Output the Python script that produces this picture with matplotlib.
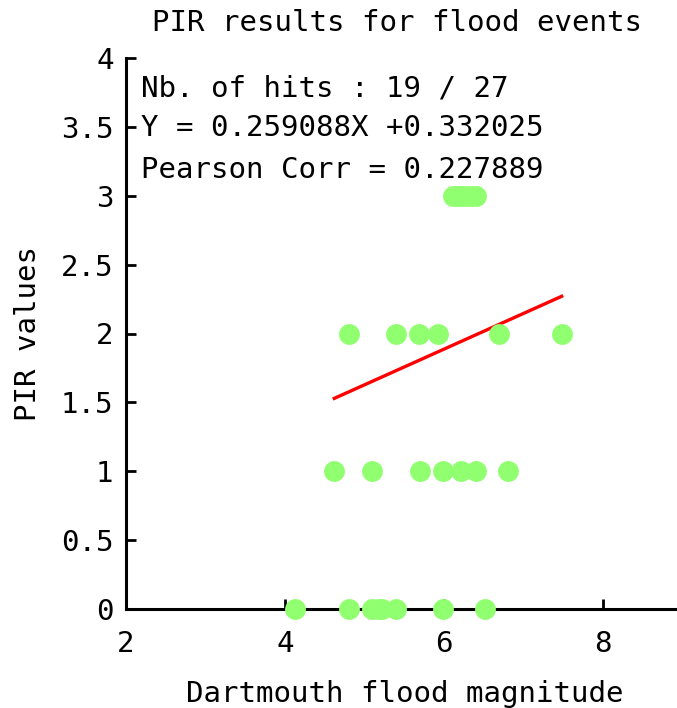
import matplotlib
matplotlib.use("Agg")
import matplotlib.pyplot as plt
import numpy as np

# --- data ---
x_pir0 = [4.13, 4.80, 5.10, 5.18, 5.22, 5.40, 5.99, 6.52]
x_pir1 = [4.62, 5.10, 5.70, 5.99, 6.22, 6.40, 6.81]
x_pir2 = [4.80, 5.40, 5.69, 5.92, 6.69, 7.48]
x_pir3 = [6.11, 6.16, 6.22, 6.28, 6.34, 6.40]
pir_levels = [0, 1, 2, 3]
slope = 0.259088
intercept = 0.332025
pearson = 0.227889
hits, total = 19, 27
x_ticks = [2, 4, 6, 8]
y_ticks = [0, 0.5, 1, 1.5, 2, 2.5, 3, 3.5, 4]
y_ticklabels = ["0", "0.5", "1", "1.5", "2", "2.5", "3", "3.5", "4"]

plt.rcParams['font.family'] = ['DejaVu Sans Mono']
FS = 21

fig = plt.figure(figsize=(6.77, 7.08), dpi=100)
W, H = 677, 708
left_px, right_px = 126, 126 + 7 * 79.5
bot_px, top_px = 609, 58
ax = fig.add_axes([left_px / W, (H - bot_px) / H, (right_px - left_px) / W, (bot_px - top_px) / H])

green = '#90ff70'
groups = [x_pir0, x_pir1, x_pir2, x_pir3]
for lvl, xs in zip(pir_levels, groups):
    ax.plot(xs, [lvl] * len(xs), 'o', color=green, markersize=15, markeredgewidth=0,
            zorder=3, clip_on=False)

hit_x = x_pir1 + x_pir2 + x_pir3
lx = np.array([min(hit_x), max(hit_x)])
ax.plot(lx, slope * lx + intercept, color='red', linewidth=2.4, zorder=2)

ax.set_xlim(2, 9)
ax.set_ylim(0, 4)
ax.set_xticks(x_ticks)
ax.set_xticklabels([str(t) for t in x_ticks])
ax.set_yticks(y_ticks)
ax.set_yticklabels(y_ticklabels)
ax.tick_params(direction='in', length=7, width=2, labelsize=FS)
ax.tick_params(axis='x', pad=15)
ax.tick_params(axis='y', pad=9)
for s in ['top', 'right']:
    ax.spines[s].set_visible(False)
for s in ['left', 'bottom']:
    ax.spines[s].set_linewidth(2.2)

ax.set_xlabel('Dartmouth flood magnitude', fontsize=FS, labelpad=16)
ax.set_ylabel('PIR values', fontsize=FS, labelpad=14)
fig.text(397 / W, 1 - 23 / H, 'PIR results for flood events', fontsize=FS,
         ha='center', va='center')

tx = 2.19
ax.text(tx, 3.78, f'Nb. of hits : {hits} / {total}', fontsize=FS, va='center')
ax.text(tx, 3.49, f'Y = {slope:.6f}X +{intercept:.6f}', fontsize=FS, va='center')
ax.text(tx, 3.19, f'Pearson Corr = {pearson:.6f}', fontsize=FS, va='center')

fig.savefig('out.png', dpi=100)
